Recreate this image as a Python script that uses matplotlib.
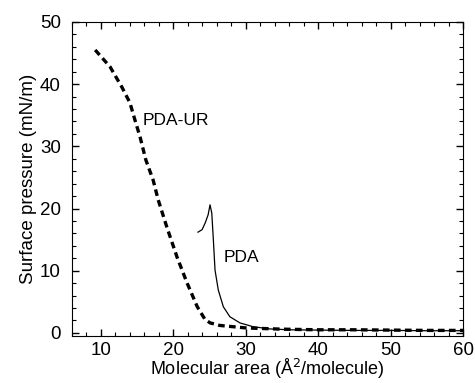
import matplotlib.pyplot as plt

plt.rcParams.update(
    {
        "font.family": ["Liberation Sans", "DejaVu Sans"],
        "font.size": 13.5,
    }
)

# PDA-UR isotherm (dashed)
pda_ur_area = [9.2, 11.25, 12.9, 14.0, 14.7, 15.4, 16.2, 17.2, 17.9, 19.1,
               20.5, 21.9, 23.3, 24.4, 25.1, 26.4, 30.0, 35.0, 40.0, 45.0,
               50.0, 55.0, 60.0]
pda_ur_pressure = [45.5, 42.8, 39.5, 37.0, 34.2, 31.5, 27.8, 24.6, 21.4, 17.0,
                   12.2, 8.0, 4.2, 2.1, 1.6, 1.2, 0.8, 0.6, 0.5, 0.5,
                   0.45, 0.4, 0.4]

# PDA isotherm (solid)
pda_area = [23.4, 23.96, 24.4, 24.8, 25.06, 25.3, 25.5, 25.75, 26.2, 26.9,
            27.8, 29.2, 31.0, 33.3, 36.0, 40.0, 45.0, 50.0, 55.0, 60.0]
pda_pressure = [16.2, 16.6, 17.7, 19.0, 20.6, 19.3, 15.4, 10.1, 6.9, 4.2,
                2.6, 1.6, 1.0, 0.64, 0.5, 0.45, 0.4, 0.4, 0.35, 0.35]

fig = plt.figure(figsize=(4.75, 3.83), dpi=100)
ax = fig.add_axes([0.1516, 0.1227, 0.8232, 0.8199])

ax.plot(pda_ur_area, pda_ur_pressure, color="black", linewidth=2.4,
        linestyle=(0, (2.0, 1.3)))
ax.plot(pda_area, pda_pressure, color="black", linewidth=0.9)

ax.text(15.8, 34.2, "PDA-UR", ha="left", va="center", fontsize=12.5)
ax.text(26.9, 12.1, "PDA", ha="left", va="center", fontsize=12.5)

ax.set_xlim(6, 60)
ax.set_ylim(-0.5, 50)
ax.set_xticks([10, 20, 30, 40, 50, 60])
ax.set_yticks([0, 10, 20, 30, 40, 50])
ax.set_xticks(range(6, 61, 2), minor=True)
ax.set_yticks(range(0, 51, 2), minor=True)
ax.tick_params(which="both", direction="in", top=True, right=True)
ax.tick_params(which="major", length=5, width=1)
ax.tick_params(which="minor", length=3, width=0.8)
ax.tick_params(axis="x", which="major", pad=4)
ax.tick_params(axis="y", which="major", pad=8)
ax.set_xlabel("Molecular area (Å$^2$/molecule)", labelpad=-1, fontsize=13)
ax.set_ylabel("Surface pressure (mN/m)", labelpad=2)

fig.savefig("out.png", dpi=100)
